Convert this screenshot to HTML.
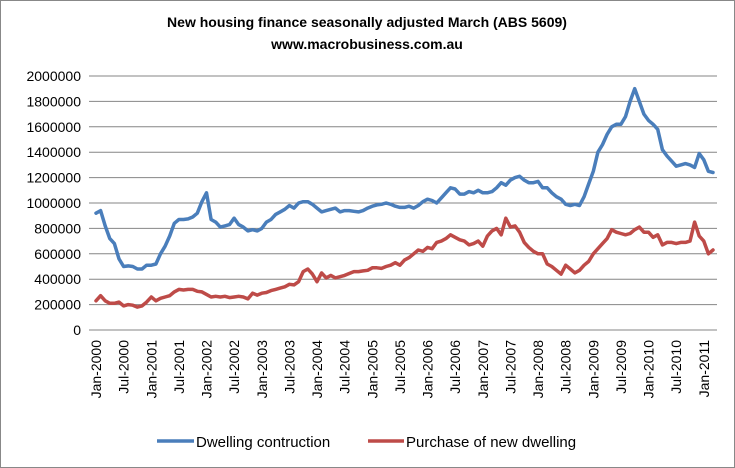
<!DOCTYPE html>
<html><head><meta charset="utf-8"><style>
body{margin:0;background:#fff}
svg{display:block;font-family:"Liberation Sans",Calibri,sans-serif}
</style></head><body>
<svg id="chart" width="735" height="468" viewBox="0 0 735 468" xmlns="http://www.w3.org/2000/svg">
<rect x="0.5" y="0.5" width="734" height="467" fill="#fff" stroke="#888"/>
<text x="367" y="27" text-anchor="middle" font-size="14" font-weight="bold">New housing finance seasonally adjusted March (ABS 5609)</text>
<text x="367" y="49" text-anchor="middle" font-size="14" font-weight="bold">www.macrobusiness.com.au</text>
<g id="grid"></g><g id="yticks"></g><g id="xticks"></g><g id="series"></g>
<g>
<line x1="157" y1="441" x2="194" y2="441" stroke="#4A7EBB" stroke-width="3.5"/>
<text x="196" y="447" font-size="15">Dwelling contruction</text>
<line x1="368" y1="441" x2="404" y2="441" stroke="#BE4B48" stroke-width="3.5"/>
<text x="406" y="447" font-size="15">Purchase of new dwelling</text>
</g>
</svg>
<script>
const yTicks=[0,200000,400000,600000,800000,1000000,1200000,1400000,1600000,1800000,2000000];
const xLabels=["Jan-2000","Jul-2000","Jan-2001","Jul-2001","Jan-2002","Jul-2002","Jan-2003","Jul-2003","Jan-2004","Jul-2004","Jan-2005","Jul-2005","Jan-2006","Jul-2006","Jan-2007","Jul-2007","Jan-2008","Jul-2008","Jan-2009","Jul-2009","Jan-2010","Jul-2010","Jan-2011"];
const dwellingConstruction=[920,940,820,720,680,560,500,505,500,480,480,510,
510,520,600,660,740,840,870,870,875,890,920,1010,
1080,870,850,810,820,830,880,830,810,780,790,780,
800,850,870,910,930,950,980,960,1000,1010,1010,990,
960,930,940,950,960,930,940,940,935,930,940,960,
975,985,990,1000,990,975,965,965,975,960,980,1010,
1030,1020,1000,1040,1080,1120,1110,1070,1070,1090,1080,1100,
1080,1080,1090,1120,1160,1140,1180,1200,1210,1180,1160,1160,
1170,1120,1120,1080,1050,1030,990,980,990,980,1050,1150,
1250,1400,1460,1540,1600,1620,1620,1680,1800,1900,1800,1700,
1650,1620,1580,1420,1370,1330,1290,1300,1310,1300,1280,1390,
1340,1250,1240];
const purchaseNew=[230,270,230,210,210,220,190,200,195,180,190,220,
260,230,250,260,270,300,320,315,320,320,305,300,
280,260,265,260,265,255,260,265,260,245,290,275,
290,295,310,320,330,340,360,355,380,460,480,440,
380,450,410,430,410,420,430,445,460,460,465,470,
490,490,485,500,510,530,510,550,570,600,630,620,
650,640,690,700,720,750,730,710,700,670,680,700,
660,740,780,800,750,880,810,820,770,690,650,620,
600,600,520,500,470,440,510,480,450,470,510,540,
600,640,680,720,790,770,760,750,760,790,810,770,
770,730,750,670,690,690,680,690,690,700,850,740,
700,600,630];
const NS="http://www.w3.org/2000/svg";
const x0=96,x1=713,y0=330,y1=76,gx0=89,gx1=717;
const N=dwellingConstruction.length;
function xs(i){return x0+(x1-x0)*i/(N-1);}
function ys(v){return y0-(y0-y1)*v/2000000;}
function mk(t,a,p){const e=document.createElementNS(NS,t);for(const k in a)e.setAttribute(k,a[k]);p.appendChild(e);return e;}
const grid=document.getElementById('grid'),yt=document.getElementById('yticks'),xt=document.getElementById('xticks'),ser=document.getElementById('series');
yTicks.forEach(v=>{
 const l=mk('line',{x1:gx0,x2:gx1,y1:ys(v),y2:ys(v),stroke:'#868686','stroke-width':1},grid);
 
 
 const t=mk('text',{x:81,y:ys(v)+5,'text-anchor':'end','font-size':14},yt);
 t.textContent=v;
 
 
});
xLabels.forEach((s,k)=>{
 const x=xs(k*6)+5;
 const t=mk('text',{x:x,y:340,'text-anchor':'end','font-size':14,transform:`rotate(-90 ${x} 340)`},xt);
 t.textContent=s;
 
 
});
function line(arr,col,name){
 const d=arr.map((v,i)=>(i?'L':'M')+xs(i).toFixed(1)+' '+ys(v*1000).toFixed(1)).join(' ');
 const p=mk('path',{d:d,fill:'none',stroke:col,'stroke-width':3.5,'stroke-linejoin':'round','stroke-linecap':'round'},ser);
 
 
}
line(purchaseNew,'#BE4B48','purchase-new-dwelling-line');
line(dwellingConstruction,'#4A7EBB','dwelling-construction-line');
</script>
</body></html>
